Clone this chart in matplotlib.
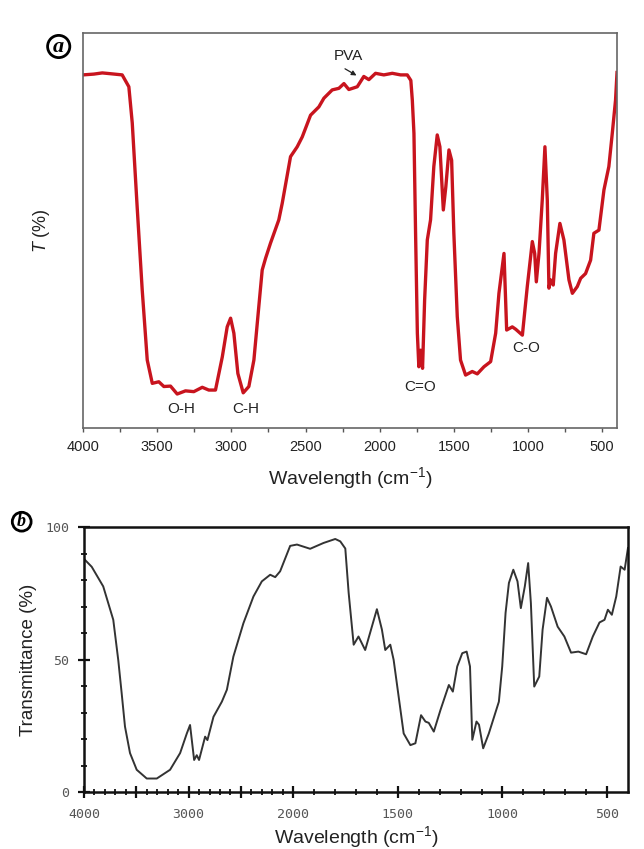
import numpy as np
import matplotlib
matplotlib.use("Agg")
import matplotlib.pyplot as plt
from matplotlib.ticker import FixedLocator, NullFormatter

plt.rcParams['font.family'] = ['Liberation Sans', 'DejaVu Sans']
plt.rcParams['mathtext.fontset'] = 'custom'
plt.rcParams['mathtext.rm'] = 'Liberation Sans'
plt.rcParams['mathtext.it'] = 'Liberation Sans:italic'

# ---------------- Panel (a) data: FTIR of PVA-based film (arbitrary T scale) ----
wn_a = [4000, 3927, 3870, 3815, 3736, 3691, 3668, 3635, 3601, 3567, 3533, 3489,
        3455, 3410, 3365, 3309, 3253, 3196, 3152, 3107, 3061, 3028, 3005, 2983,
        2956, 2920, 2882, 2848, 2815, 2792, 2769, 2736, 2680, 2657, 2601, 2556,
        2522, 2466, 2410, 2376, 2320, 2275, 2241, 2208, 2151, 2107, 2073, 2028,
        1972, 1915, 1859, 1814, 1790, 1780, 1769, 1758, 1746, 1736, 1724, 1711,
        1697, 1679, 1657, 1635, 1612, 1594, 1571, 1554, 1533, 1515, 1500, 1477,
        1455, 1421, 1376, 1342, 1297, 1252, 1218, 1196, 1162, 1144, 1106, 1083,
        1038, 1005, 971, 955, 944, 926, 904, 886, 870, 859, 848, 830, 814, 785,
        758, 724, 701, 668, 645, 612, 578, 556, 522, 488, 455, 432, 410, 400]
t_a = [89.4, 89.6, 89.9, 89.7, 89.4, 86.4, 77.2, 56.0, 35.0, 17.2, 11.3, 11.7,
       10.5, 10.6, 8.6, 9.4, 9.2, 10.3, 9.6, 9.6, 18.0, 25.6, 27.8, 24.0,
       13.8, 8.9, 10.5, 17.2, 30.7, 40.0, 43.0, 46.8, 52.7, 56.9, 68.7, 71.2,
       73.7, 79.2, 81.3, 83.5, 85.6, 86.0, 87.2, 85.7, 86.4, 89.0, 88.2, 89.8,
       89.4, 89.8, 89.4, 89.4, 88.0, 83.0, 74.6, 49.3, 24.0, 15.5, 19.7, 15.1,
       32.4, 47.6, 52.7, 66.2, 74.2, 71.2, 55.2, 61.1, 70.4, 67.8, 49.3, 28.2,
       17.2, 13.4, 14.3, 13.7, 15.5, 16.8, 24.0, 34.1, 44.2, 24.8, 25.6, 25.0,
       23.5, 35.8, 47.2, 44.2, 37.0, 44.2, 57.7, 71.2, 57.7, 35.4, 37.5, 36.2, 44.2, 51.8,
       47.6, 37.5, 34.1, 35.8, 37.9, 39.1, 42.5, 49.3, 50.1, 60.3, 66.2, 74.6, 83.0, 90.0]

# ---------------- Panel (b) data: Transmittance (%) ----------------------------
wn_b = [4000, 3926, 3816, 3720, 3672, 3640, 3608, 3560, 3496, 3400, 3304, 3177,
        3081, 3017, 2986, 2947, 2922, 2900, 2842, 2820, 2762, 2682, 2634, 2572,
        2476, 2380, 2300, 2220, 2172, 2125, 2029, 1982, 1919, 1855, 1799, 1775,
        1751, 1735, 1711, 1688, 1656, 1624, 1600, 1576, 1560, 1536, 1520, 1496,
        1472, 1440, 1416, 1389, 1368, 1352, 1328, 1296, 1256, 1237, 1216, 1192,
        1171, 1155, 1144, 1124, 1112, 1092, 1065, 1017, 1001, 985, 969, 948,
        928, 912, 893, 877, 864, 848, 824, 808, 787, 768, 736, 704, 672, 637,
        600, 568, 536, 512, 496, 477, 456, 435, 416, 400]
t_b = [88.0, 85.0, 77.6, 65.0, 49.7, 37.4, 24.7, 14.7, 8.4, 5.1, 5.1, 8.4,
       14.7, 22.1, 25.3, 12.1, 13.9, 12.1, 20.9, 19.6, 28.4, 34.1, 38.6, 51.1,
       63.7, 73.8, 79.5, 82.0, 81.1, 83.3, 92.9, 93.4, 91.8, 94.0, 95.5, 94.6,
       91.9, 75.2, 55.6, 58.7, 53.6, 62.4, 69.0, 61.3, 53.6, 55.6, 49.9, 36.0,
       22.1, 17.7, 18.4, 29.0, 26.6, 26.1, 22.8, 31.0, 40.4, 37.9, 47.4, 52.4,
       53.0, 47.4, 19.7, 26.6, 25.4, 16.5, 22.1, 34.1, 47.4, 67.6, 78.9, 83.9,
       79.5, 69.4, 77.6, 86.4, 71.3, 39.8, 43.6, 61.3, 73.3, 70.0, 62.4, 58.7, 52.6, 53.0,
       52.0, 58.7, 64.0, 65.0, 68.8, 66.9, 73.8, 85.1, 83.9, 92.1]

ticks_a = [4000, 3500, 3000, 2500, 2000, 1500, 1000, 500]
ticks_b = [4000, 3500, 3000, 2500, 2000, 1500, 1000, 500]
ticklabels_b = ['4000', '', '3000', '', '2000', '1500', '1000', '500']

fig = plt.figure(figsize=(6.44, 8.49), dpi=100)
fig.patch.set_facecolor('white')

# ---------------- Panel (a) ----------------
axa = fig.add_axes([0.1289, 0.4959, 0.8292, 0.4652])
axa.plot(wn_a, t_a, color='#c8141e', lw=2.4, solid_joinstyle='round')
axa.set_xlim(4000, 400)
axa.set_ylim(0, 100)
axa.set_xticks(ticks_a)
axa.set_xticks([3750, 3250, 2750, 2250, 1750, 1250, 750], minor=True)
axa.set_yticks([])
axa.tick_params(axis='x', which='both', direction='out', length=3, width=1,
                color='#555555', labelsize=10.5, labelcolor='#222222', pad=6)
for s in axa.spines.values():
    s.set_color('#666666')
    s.set_linewidth(1.2)
axa.set_xlabel(r'Wavelength (cm$^{-1}$)', fontsize=14, color='#222222', labelpad=8)
axa.set_ylabel(r'$T$ (%)', fontsize=13, color='#222222', labelpad=22)

lab_kw = dict(fontsize=11, color='#222222', ha='center', va='center')
axa.text(3338, 4.8, 'O-H', **lab_kw)
axa.text(2904, 4.8, 'C-H', **lab_kw)
axa.text(1726, 10.4, 'C=O', **lab_kw)
axa.text(1012, 20.3, 'C-O', **lab_kw)
axa.text(2210, 94.2, 'PVA', **lab_kw)
axa.annotate('', xy=(2140, 88.9), xytext=(2250, 91.3),
             arrowprops=dict(arrowstyle='-|>', color='#222222', lw=0.9,
                             mutation_scale=7))

# ---------------- Panel (b) ----------------
def fwd(w):
    w = np.asarray(w, dtype=float)
    return np.where(w > 2000, 2000 + (w - 2000) / 2.0, w)

def inv(v):
    v = np.asarray(v, dtype=float)
    return np.where(v > 2000, 2000 + 2.0 * (v - 2000), v)

axb = fig.add_axes([0.1304, 0.0671, 0.8447, 0.3121])
axb.set_xscale('function', functions=(fwd, inv))
axb.plot(wn_b, t_b, color='#333333', lw=1.4)
axb.set_xlim(4000, 400)
axb.set_ylim(0, 100)
axb.xaxis.set_major_locator(FixedLocator(ticks_b))
axb.set_xticklabels(ticklabels_b)
minor_b = [w for w in range(500, 4000, 100) if w not in ticks_b]
axb.xaxis.set_minor_locator(FixedLocator(minor_b))
axb.xaxis.set_minor_formatter(NullFormatter())
axb.yaxis.set_major_locator(FixedLocator([0, 50, 100]))
axb.yaxis.set_minor_locator(FixedLocator([10, 20, 30, 40, 60, 70, 80, 90]))
axb.yaxis.set_minor_formatter(NullFormatter())
axb.tick_params(which='major', direction='inout', length=9, width=1.6,
                color='#111111', labelsize=9.5, labelcolor='#555555')
axb.tick_params(which='minor', direction='inout', length=5, width=1.3, color='#111111')
axb.tick_params(axis='x', which='major', pad=7)
axb.tick_params(axis='y', which='major', pad=6)
for lab in axb.get_xticklabels() + axb.get_yticklabels():
    lab.set_family('DejaVu Sans Mono')
for s in axb.spines.values():
    s.set_color('#111111')
    s.set_linewidth(1.8)
axb.set_xlabel(r'Wavelength (cm$^{-1}$)', fontsize=14, color='#222222', labelpad=2)
axb.set_ylabel('Transmittance (%)', fontsize=13.5, color='#222222', labelpad=6)

# ---------------- circled panel letters ----------------
fig.text(58.7 / 644, 1 - 46.5 / 849, 'a', fontsize=16, family='Liberation Serif',
         style='italic', weight='bold', ha='center', va='center',
         bbox=dict(boxstyle='circle,pad=0.05', fc='white', ec='black', lw=2))
fig.text(21.7 / 644, 1 - 521.7 / 849, 'b', fontsize=13, family='Liberation Serif',
         style='italic', weight='bold', ha='center', va='center',
         bbox=dict(boxstyle='circle,pad=0.05', fc='white', ec='black', lw=2))

fig.savefig('out.png', dpi=100, facecolor='white')
